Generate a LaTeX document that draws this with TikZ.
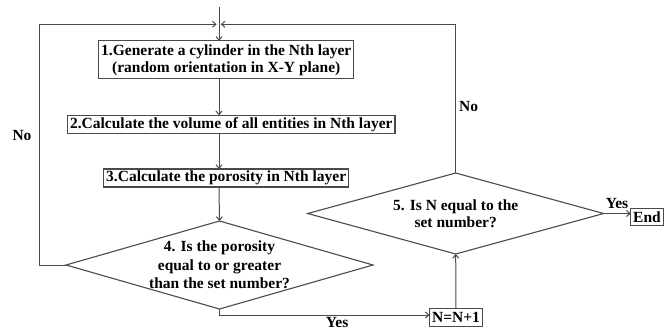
\documentclass[tikz,border=0pt]{standalone}
\usepackage{fontspec}
\setmainfont{Liberation Serif}
\usetikzlibrary{arrows.meta,shapes.geometric}
\definecolor{linegray}{HTML}{4A4A4A}

\begin{document}
\begin{tikzpicture}[x=1pt, y=-1pt,
  procbox/.style={draw=linegray, line width=1.1pt, fill=white, align=center,
                  font=\bfseries\fontsize{15.5}{17}\selectfont,
                  inner xsep=2.5pt, inner ysep=1pt, minimum height=18pt, outer sep=0pt},
  decision/.style={diamond, draw=linegray, line width=1.1pt, align=center,
                   font=\bfseries\fontsize{15.5}{18.5}\selectfont, aspect=3.5,
                   inner sep=-8pt, outer sep=0pt},
  flow/.style={-{Straight Barb[length=3.5pt,width=6pt]}, linegray, line width=1pt},
  lbl/.style={font=\bfseries\fontsize{15.5}{17}\selectfont, text=black, inner sep=1pt},
]
\useasboundingbox (0,0) rectangle (665,335);

% ── entry and merge point ───────────────────────────────────────────────
\coordinate (start) at (219,7);
\coordinate (merge) at (219,24.3);

% ── process steps ───────────────────────────────────────────────────────
\node[procbox, minimum height=38pt] (step1) at (226.3,59.9)
      {1.Generate a cylinder in the Nth layer\\(random orientation in X-Y plane)};
\node[procbox] (step2) at (231.3,124.3)
      {2.Calculate the volume of all entities in Nth layer};
\node[procbox] (step3) at (226.2,178)
      {3.Calculate the porosity in Nth layer};

% ── checks ──────────────────────────────────────────────────────────────
\node[decision, minimum width=307pt, minimum height=88pt] (chk4) at (219.5,265)
      {4. Is the porosity\\equal to or greater\\than the set number?};
\node[decision, font=\bfseries\fontsize{15.5}{17}\selectfont,
      minimum width=296pt, minimum height=81pt] (chk5) at (455.7,213.5)
      {5. Is N equal to the\\set number?};
\node[procbox] (incr) at (456,317.5) {N=N+1};
\node[procbox, minimum height=17pt] (finish) at (647,216.7) {End};

% ── main trunk ──────────────────────────────────────────────────────────
\draw[linegray, line width=1pt] (start) -- (merge);
\draw[flow] (merge) -- (merge |- step1.north);
\draw[flow] (merge |- step1.south) -- (merge |- step2.north);
\draw[flow] (merge |- step2.south) -- (merge |- step3.north);
\draw[flow] (merge |- step3.south) -- (chk4.north);

% ── loops back ──────────────────────────────────────────────────────────
\draw[flow] (chk4.west) -- ++(-26.7,0) |- ([xshift=-2.3pt]merge);
\node[lbl] (no4) at (22,135) {No};
\draw[flow] (chk5.north) |- ([xshift=1.7pt]merge);
\node[lbl, anchor=west] (no5) at (458,106) {No};

% ── exits ───────────────────────────────────────────────────────────────
\draw[flow] (chk4.south) |- ([yshift=2.5pt]incr.west)
      node[lbl, pos=0.78, below=1pt] (yes4) {Yes};
\draw[flow] (incr.north) -- (chk5.south);
\draw[flow] (chk5.east) -- (chk5.east -| finish.west);
\node[lbl] (yes5) at (617,203) {Yes};

\end{tikzpicture}
\end{document}
